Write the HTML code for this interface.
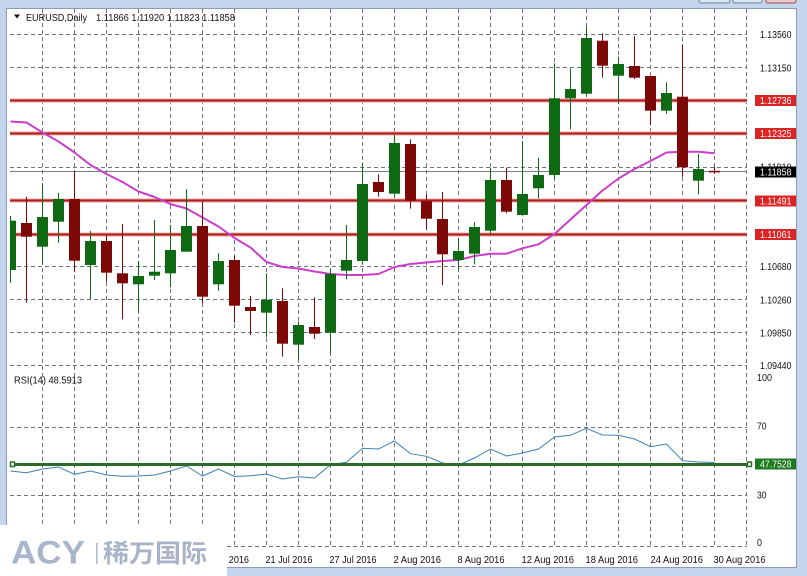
<!DOCTYPE html>
<html><head><meta charset="utf-8"><style>
html,body{margin:0;padding:0;background:#fff;}
svg{display:block;}
text{font-family:"Liberation Sans","DejaVu Sans",sans-serif;}
</style></head><body>
<svg width="807" height="576" viewBox="0 0 807 576" xmlns="http://www.w3.org/2000/svg">
<defs><clipPath id="plot"><rect x="10" y="9" width="737" height="360"/></clipPath>
<clipPath id="rsi"><rect x="10" y="371" width="737" height="176"/></clipPath></defs>
<rect x="0" y="0" width="807" height="576" fill="#ffffff"/>
<!-- frame -->
<rect x="0" y="0" width="807" height="8" fill="#c3d6ee"/>
<rect x="0" y="0" width="6" height="576" fill="#c3d6ee"/>
<rect x="797" y="0" width="10" height="576" fill="#c3d6ee"/>
<rect x="0" y="568" width="807" height="8" fill="#c3d6ee"/>
<line x1="6.5" y1="8" x2="6.5" y2="568" stroke="#8d9cb2" stroke-width="1"/>
<line x1="6" y1="8.5" x2="797" y2="8.5" stroke="#8d9cb2" stroke-width="1"/>
<line x1="796.5" y1="8" x2="796.5" y2="568" stroke="#8d9cb2" stroke-width="1"/>
<line x1="6" y1="567.5" x2="797" y2="567.5" stroke="#8d9cb2" stroke-width="1"/>
<rect x="699" y="-5" width="31" height="8" rx="2" fill="#dbe6f3" stroke="#6f8098"/>
<rect x="733" y="-5" width="29" height="8" rx="2" fill="#dbe6f3" stroke="#6f8098"/>
<rect x="766" y="-5" width="30" height="8" rx="2" fill="#e8c8c8" stroke="#a05050"/>

<!-- grid -->
<g stroke="#6c7183" stroke-width="1" stroke-dasharray="4,3" fill="none">
<path d="M42.5 9V546M74.5 9V546M106.5 9V546M138.5 9V546M170.5 9V546M202.5 9V546M234.5 9V546M266.5 9V546M298.5 9V546M330.5 9V546M362.5 9V546M394.5 9V546M426.5 9V546M458.5 9V546M490.5 9V546M522.5 9V546M554.5 9V546M586.5 9V546M618.5 9V546M650.5 9V546M682.5 9V546M714.5 9V546M746.5 9V546"/>
<path d="M10 34.5H747M10 67.5H747M10 100.5H747M10 133.5H747M10 167.5H747M10 200.5H747M10 233.5H747M10 266.5H747M10 299.5H747M10 332.5H747M10 365.5H747"/>
<path d="M10 427.5H747M10 495.5H747M10 546.5H747"/>
</g>

<!-- current price line -->
<line x1="10" y1="171.5" x2="747" y2="171.5" stroke="#77778f" stroke-width="1"/>

<!-- red horizontal levels -->
<g stroke-width="4.5" stroke="#f3c6c6">
<line x1="10" y1="100.5" x2="747" y2="100.5"/><line x1="10" y1="133.5" x2="747" y2="133.5"/>
<line x1="10" y1="200.5" x2="747" y2="200.5"/><line x1="10" y1="234.5" x2="747" y2="234.5"/>
</g>
<g stroke-width="2.2" stroke="#b0201e">
<line x1="10" y1="100.5" x2="747" y2="100.5"/><line x1="10" y1="133.5" x2="747" y2="133.5"/>
<line x1="10" y1="200.5" x2="747" y2="200.5"/><line x1="10" y1="234.5" x2="747" y2="234.5"/>
</g>

<!-- MA -->
<polyline clip-path="url(#plot)" fill="none" stroke="#c93fc9" stroke-width="2" stroke-linejoin="round" points="10.5,121.5 26.5,122.5 42.5,132.5 58.5,141.5 74.5,152.5 90.5,165 106.5,174 122.5,182 138.5,191.5 154.5,197 170.5,204 186.5,208.5 202.5,217.5 218.5,226.5 234.5,238 250.5,247.5 266.5,262 282.5,267 298.5,268.5 314.5,271.5 330.5,274 346.5,275 362.5,275 378.5,274 394.5,267 410.5,264 426.5,262.5 442.5,261 458.5,260 474.5,256 490.5,253.7 506.5,253.7 522.5,248.3 538.5,244.3 554.5,234 570.5,219.5 586.5,205 602.5,190.5 618.5,178.5 634.5,169 650.5,161 666.5,152.5 682.5,151.7 698.5,151.7 714.5,153.3"/>

<!-- candles -->
<g clip-path="url(#plot)">
<g fill="#0d6a13">
<rect x="10" y="216" width="1" height="66.7"/><rect x="5" y="220.7" width="11" height="49.3"/>
<rect x="42" y="183.3" width="1" height="80.7"/><rect x="37" y="217" width="11" height="29.7"/>
<rect x="58" y="192.7" width="1" height="50"/><rect x="53" y="199" width="11" height="22.7"/>
<rect x="90" y="231" width="1" height="68.3"/><rect x="85" y="241" width="11" height="24"/>
<rect x="138" y="261" width="1" height="50"/><rect x="133" y="276" width="11" height="8.3"/>
<rect x="154" y="220" width="1" height="60"/><rect x="149" y="271.7" width="11" height="4"/>
<rect x="170" y="225" width="1" height="62.3"/><rect x="165" y="250" width="11" height="23.3"/>
<rect x="186" y="189.3" width="1" height="62.4"/><rect x="181" y="226" width="11" height="25.7"/>
<rect x="218" y="253.3" width="1" height="37.4"/><rect x="213" y="261" width="11" height="23.3"/>
<rect x="266" y="273.3" width="1" height="64"/><rect x="261" y="299.7" width="11" height="13"/>
<rect x="298" y="321.7" width="1" height="38.3"/><rect x="293" y="325" width="11" height="19.7"/>
<rect x="330" y="269" width="1" height="84.3"/><rect x="325" y="274" width="11" height="58.7"/>
<rect x="346" y="225" width="1" height="54.3"/><rect x="341" y="260" width="11" height="10.7"/>
<rect x="362" y="162.7" width="1" height="101.3"/><rect x="357" y="184" width="11" height="77"/>
<rect x="394" y="135" width="1" height="62.7"/><rect x="389" y="143" width="11" height="50.7"/>
<rect x="458" y="238" width="1" height="32"/><rect x="453" y="251" width="11" height="9"/>
<rect x="474" y="222.3" width="1" height="42"/><rect x="469" y="227" width="11" height="26.7"/>
<rect x="490" y="167.7" width="1" height="65.6"/><rect x="485" y="180" width="11" height="50.7"/>
<rect x="522" y="141" width="1" height="74"/><rect x="517" y="194" width="11" height="21"/>
<rect x="538" y="157.7" width="1" height="40.6"/><rect x="533" y="175" width="11" height="13.3"/>
<rect x="554" y="63.3" width="1" height="115.7"/><rect x="549" y="98.3" width="11" height="76.7"/>
<rect x="570" y="68.3" width="1" height="61"/><rect x="565" y="89" width="11" height="9.3"/>
<rect x="586" y="26.7" width="1" height="68.3"/><rect x="581" y="38" width="11" height="55.7"/>
<rect x="618" y="56.7" width="1" height="46.6"/><rect x="613" y="64" width="11" height="11.7"/>
<rect x="666" y="82.3" width="1" height="31.7"/><rect x="661" y="93" width="11" height="17.7"/>
<rect x="698" y="154" width="1" height="40.3"/><rect x="693" y="169" width="11" height="11.7"/>
</g>
<g fill="#7c0707">
<rect x="26" y="196.7" width="1" height="106"/><rect x="21" y="223" width="11" height="13.7"/>
<rect x="74" y="171" width="1" height="100.7"/><rect x="69" y="199" width="11" height="61.7"/>
<rect x="106" y="235" width="1" height="46.7"/><rect x="101" y="241" width="11" height="31.7"/>
<rect x="122" y="224" width="1" height="95.3"/><rect x="117" y="273.3" width="11" height="10"/>
<rect x="202" y="201.7" width="1" height="101.6"/><rect x="197" y="226" width="11" height="70.7"/>
<rect x="234" y="256" width="1" height="66.7"/><rect x="229" y="260" width="11" height="45.7"/>
<rect x="250" y="296" width="1" height="39"/><rect x="245" y="307" width="11" height="4"/>
<rect x="282" y="288.3" width="1" height="68.4"/><rect x="277" y="301" width="11" height="42.7"/>
<rect x="314" y="297.3" width="1" height="41.7"/><rect x="309" y="327" width="11" height="6.7"/>
<rect x="378" y="174.3" width="1" height="22.4"/><rect x="373" y="182" width="11" height="10"/>
<rect x="410" y="139.3" width="1" height="69.4"/><rect x="405" y="144" width="11" height="56.7"/>
<rect x="426" y="195" width="1" height="35"/><rect x="421" y="201.3" width="11" height="17.4"/>
<rect x="442" y="192" width="1" height="93"/><rect x="437" y="219" width="11" height="35.3"/>
<rect x="506" y="167.7" width="1" height="45.6"/><rect x="501" y="180" width="11" height="31.7"/>
<rect x="602" y="33.3" width="1" height="44.4"/><rect x="597" y="40.7" width="11" height="25"/>
<rect x="634" y="36" width="1" height="43"/><rect x="629" y="66" width="11" height="11.7"/>
<rect x="650" y="76" width="1" height="49"/><rect x="645" y="76" width="11" height="34.7"/>
<rect x="682" y="45" width="1" height="131.7"/><rect x="677" y="96.7" width="11" height="70.6"/>
<rect x="714" y="166.7" width="1" height="6.6"/><rect x="709" y="170.8" width="11" height="1.6"/>
</g>
</g>

<!-- RSI -->
<polyline clip-path="url(#rsi)" fill="none" stroke="#3f7fb2" stroke-width="1" points="10.5,471 26.5,472.7 42.5,469 58.5,467 74.5,474.3 90.5,471 106.5,475 122.5,476.3 138.5,476 154.5,475 170.5,471 186.5,466 202.5,476 218.5,469 234.5,476.5 250.5,475.7 266.5,474 282.5,479 298.5,476.7 314.5,478 330.5,464.7 346.5,462.3 362.5,448.3 378.5,449 394.5,441 410.5,453.7 426.5,456.3 442.5,463 458.5,465 474.5,458 490.5,449 506.5,456 522.5,453 538.5,449 554.5,437 570.5,435.3 586.5,428.3 602.5,435 618.5,435.3 634.5,439 650.5,446.7 666.5,444 682.5,460.7 698.5,462 714.5,462.5"/>
<line x1="10" y1="464.5" x2="749" y2="464.5" stroke="#2b6a2b" stroke-width="3"/>
<rect x="10.5" y="462" width="4" height="4.5" fill="#fff" stroke="#2b6a2b" stroke-width="1.5"/>
<rect x="747.5" y="462" width="4" height="4.5" fill="#fff" stroke="#2b6a2b" stroke-width="1.5"/>

<!-- title -->
<path d="M14 14.5h6l-3 4z" fill="#111"/>
<text x="26" y="21" font-size="10" fill="#111" textLength="61" lengthAdjust="spacingAndGlyphs">EURUSD,Daily</text>
<text x="96" y="21" font-size="10" fill="#111" textLength="139" lengthAdjust="spacingAndGlyphs">1.11866 1.11920 1.11823 1.11858</text>
<text x="14" y="383.5" font-size="10" fill="#111" textLength="68" lengthAdjust="spacingAndGlyphs">RSI(14) 48.5913</text>

<!-- right axis labels -->
<g font-size="10" fill="#111">
<text x="760" y="38.2" textLength="31.5" lengthAdjust="spacingAndGlyphs">1.13560</text>
<text x="760" y="71.3" textLength="31.5" lengthAdjust="spacingAndGlyphs">1.13150</text>
<text x="760" y="170.5" textLength="31.5" lengthAdjust="spacingAndGlyphs">1.11910</text>
<text x="760" y="270" textLength="31.5" lengthAdjust="spacingAndGlyphs">1.10680</text>
<text x="760" y="303.3" textLength="31.5" lengthAdjust="spacingAndGlyphs">1.10260</text>
<text x="760" y="336.5" textLength="31.5" lengthAdjust="spacingAndGlyphs">1.09850</text>
<text x="760" y="369.2" textLength="31.5" lengthAdjust="spacingAndGlyphs">1.09440</text>
<text x="757" y="381" textLength="15" lengthAdjust="spacingAndGlyphs">100</text>
<text x="757" y="429.5" textLength="9.5" lengthAdjust="spacingAndGlyphs">70</text>
<text x="757" y="498.5" textLength="9.5" lengthAdjust="spacingAndGlyphs">30</text>
<text x="757" y="546" textLength="5" lengthAdjust="spacingAndGlyphs">0</text>
</g>
<g>
<rect x="755" y="95" width="41" height="11" fill="#dc2424"/>
<rect x="755" y="128" width="41" height="11" fill="#dc2424"/>
<rect x="755" y="195.5" width="41" height="11" fill="#dc2424"/>
<rect x="755" y="229" width="41" height="11" fill="#dc2424"/>
<rect x="755" y="166.5" width="41" height="11" fill="#000"/>
<rect x="755" y="458.5" width="41" height="11" fill="#1e7a1e"/>
</g>
<g font-size="10" fill="#fff">
<text x="760" y="104" textLength="31.5" lengthAdjust="spacingAndGlyphs">1.12736</text>
<text x="760" y="137" textLength="31.5" lengthAdjust="spacingAndGlyphs">1.12325</text>
<text x="760" y="204.5" textLength="31.5" lengthAdjust="spacingAndGlyphs">1.11491</text>
<text x="760" y="238" textLength="31.5" lengthAdjust="spacingAndGlyphs">1.11061</text>
<text x="760" y="175.5" textLength="31.5" lengthAdjust="spacingAndGlyphs">1.11858</text>
<text x="760" y="467.5" textLength="31.5" lengthAdjust="spacingAndGlyphs">47.7528</text>
</g>

<!-- date labels -->
<g font-size="10" fill="#111">
<text x="202" y="563" textLength="47" lengthAdjust="spacingAndGlyphs">15 Jul 2016</text>
<text x="265.5" y="563" textLength="47" lengthAdjust="spacingAndGlyphs">21 Jul 2016</text>
<text x="329.5" y="563" textLength="47" lengthAdjust="spacingAndGlyphs">27 Jul 2016</text>
<text x="393.5" y="563" textLength="47.5" lengthAdjust="spacingAndGlyphs">2 Aug 2016</text>
<text x="457.5" y="563" textLength="47" lengthAdjust="spacingAndGlyphs">8 Aug 2016</text>
<text x="521.5" y="563" textLength="52.5" lengthAdjust="spacingAndGlyphs">12 Aug 2016</text>
<text x="585.5" y="563" textLength="52.5" lengthAdjust="spacingAndGlyphs">18 Aug 2016</text>
<text x="650.5" y="563" textLength="52.5" lengthAdjust="spacingAndGlyphs">24 Aug 2016</text>
<text x="713.5" y="563" textLength="52" lengthAdjust="spacingAndGlyphs">30 Aug 2016</text>
</g>

<!-- logo -->
<rect x="0" y="525" width="227" height="51" fill="#ffffff"/>
<text x="11" y="563.5" font-size="32" font-weight="bold" fill="#a9b5cb" textLength="74" lengthAdjust="spacingAndGlyphs">ACY</text>
<rect x="96" y="543" width="1.6" height="21" fill="#b3bdd0"/>
<text x="103" y="562" font-size="25" font-weight="bold" fill="#a9b3c8" textLength="104" lengthAdjust="spacingAndGlyphs" style="font-family:'Liberation Sans','Noto Sans CJK SC','WenQuanYi Zen Hei',sans-serif">稀万国际</text>
</svg>
</body></html>
